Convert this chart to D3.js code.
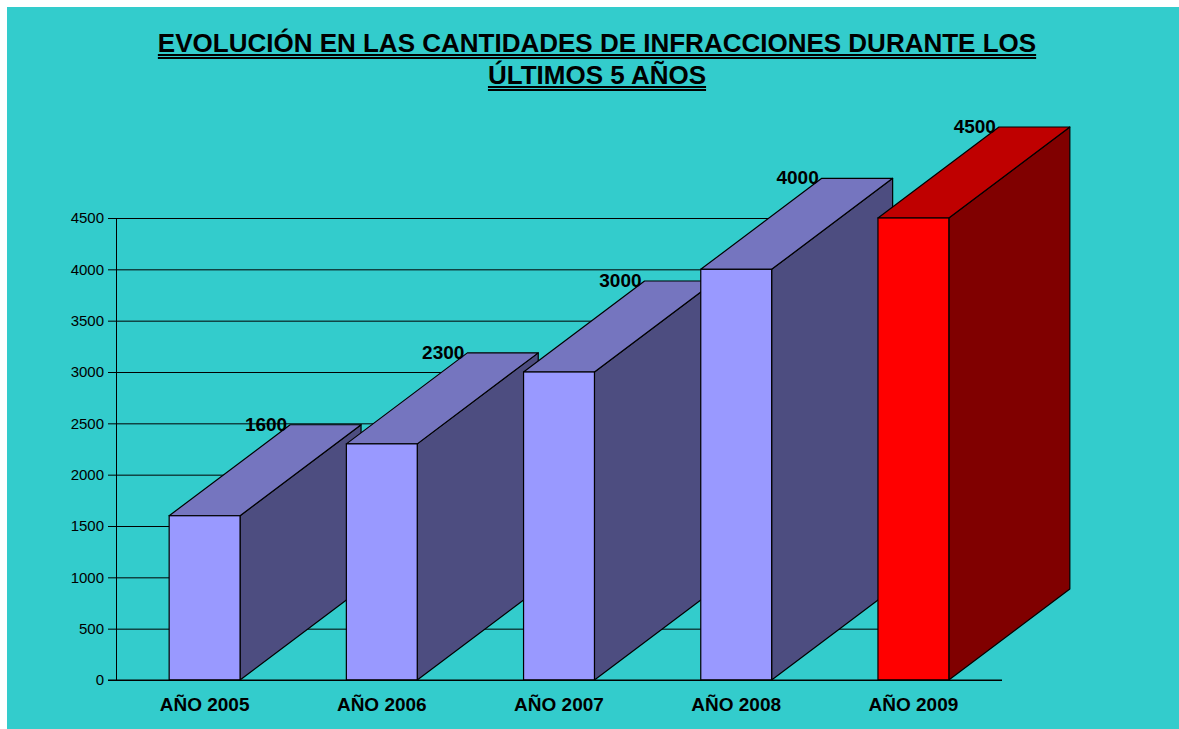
<!DOCTYPE html>
<html>
<head>
<meta charset="utf-8">
<script src="https://cdn.jsdelivr.net/npm/d3@7"></script>
<style>
  html, body { margin: 0; padding: 0; background: #fff; }
  svg { display: block; font-family: Arial, "Liberation Sans", sans-serif; }
</style>
</head>
<body>
<div id="chart"></div>
<script>
const categories = ['AÑO 2005', 'AÑO 2006', 'AÑO 2007', 'AÑO 2008', 'AÑO 2009'];
const values = [1600, 2300, 3000, 4000, 4500];
const yTicks = [0, 500, 1000, 1500, 2000, 2500, 3000, 3500, 4000, 4500];
const titleLines = ['EVOLUCIÓN EN LAS CANTIDADES DE INFRACCIONES DURANTE LOS', 'ÚLTIMOS 5 AÑOS'];

const width = 1179, height = 729;
const plot = { left: 116, right: 1002, top: 218, bottom: 680 };
const depth = { dx: 121, dy: -91 };

const svg = d3.select('#chart').append('svg')
  .attr('width', width)
  .attr('height', height);

// teal panel, white strip at the top and left
svg.append('rect')
  .attr('x', 7).attr('y', 7)
  .attr('width', width - 7).attr('height', height - 7)
  .attr('fill', '#33CCCC');

// title with underline
const title = svg.append('g');
titleLines.forEach((t, i) => {
  const y = 52 + i * 32;
  const txt = title.append('text')
    .attr('x', 597).attr('y', y)
    .attr('text-anchor', 'middle')
    .attr('font-size', 26)
    .attr('font-weight', 'bold')
    .attr('fill', '#000')
    .text(t);
  const w = txt.node().getComputedTextLength();
  [3, 6].forEach(off => {
    title.append('line')
      .attr('x1', 597 - w / 2).attr('x2', 597 + w / 2)
      .attr('y1', y + off).attr('y2', y + off)
      .attr('stroke', '#000').attr('stroke-width', 1.8);
  });
});

const x = d3.scaleBand()
  .domain(categories)
  .range([plot.left, plot.right])
  .paddingInner(0.6)
  .paddingOuter(0.3);

const y = d3.scaleLinear()
  .domain([0, 4500])
  .range([plot.bottom, plot.top]);

// grid lines
svg.append('g')
  .attr('transform', `translate(${plot.left},0)`)
  .call(d3.axisLeft(y).tickValues(yTicks).tickSize(-(plot.right - plot.left)).tickFormat(''))
  .call(g => g.select('.domain').remove())
  .selectAll('line')
  .attr('stroke', '#000')
  .attr('stroke-width', 1);

// y axis
const yAxis = svg.append('g')
  .attr('transform', `translate(${plot.left},0)`)
  .call(d3.axisLeft(y).tickValues(yTicks).tickFormat(d3.format('d')).tickSize(8).tickSizeOuter(0).tickPadding(4));
yAxis.attr('font-size', 15).attr('font-family', 'Arial, "Liberation Sans", sans-serif');
yAxis.select('.domain').attr('stroke', '#000');
yAxis.selectAll('.tick line').attr('stroke', '#000');
yAxis.selectAll('.tick text').attr('fill', '#000');

// 3D bars
const palette = {
  normal: { front: '#9999FF', top: '#7575BF', side: '#4D4D80' },
  last: { front: '#FF0000', top: '#BF0000', side: '#800000' }
};

const bars = svg.append('g');
categories.forEach((c, i) => {
  const col = i === categories.length - 1 ? palette.last : palette.normal;
  const x0 = x(c), x1 = x(c) + x.bandwidth();
  const yt = y(values[i]), yb = y(0);
  const g = bars.append('g');
  g.append('polygon')
    .attr('points', [[x1, yt], [x1 + depth.dx, yt + depth.dy], [x1 + depth.dx, yb + depth.dy], [x1, yb]].join(' '))
    .attr('fill', col.side).attr('stroke', '#000').attr('stroke-width', 1.2).attr('stroke-linejoin', 'round');
  g.append('polygon')
    .attr('points', [[x0, yt], [x1, yt], [x1 + depth.dx, yt + depth.dy], [x0 + depth.dx, yt + depth.dy]].join(' '))
    .attr('fill', col.top).attr('stroke', '#000').attr('stroke-width', 1.2).attr('stroke-linejoin', 'round');
  g.append('rect')
    .attr('x', x0).attr('y', yt)
    .attr('width', x.bandwidth()).attr('height', yb - yt)
    .attr('fill', col.front).attr('stroke', '#000').attr('stroke-width', 1.2);
  g.append('text')
    .attr('x', x0 + depth.dx - 3)
    .attr('y', yt + depth.dy + 6)
    .attr('text-anchor', 'end')
    .attr('font-size', 19)
    .attr('font-weight', 'bold')
    .attr('fill', '#000')
    .text(values[i]);
});

// x axis line
svg.append('line')
  .attr('x1', plot.left - 8).attr('x2', plot.right)
  .attr('y1', plot.bottom).attr('y2', plot.bottom)
  .attr('stroke', '#000');

// x labels
svg.append('g').selectAll('text')
  .data(categories)
  .join('text')
  .attr('x', d => x(d) + x.bandwidth() / 2)
  .attr('y', 711)
  .attr('text-anchor', 'middle')
  .attr('font-size', 19)
  .attr('font-weight', 'bold')
  .attr('fill', '#000')
  .text(d => d);
</script>
</body>
</html>
